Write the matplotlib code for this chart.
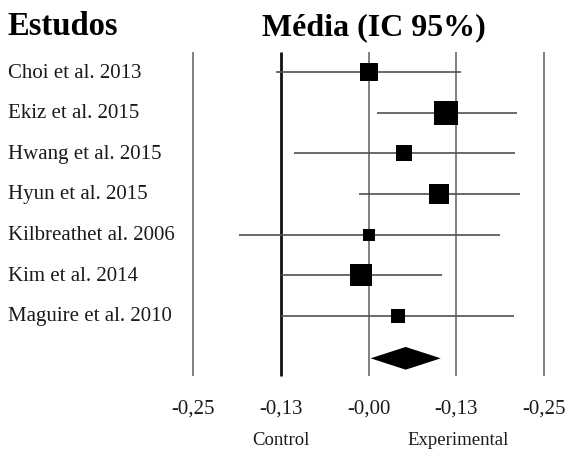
import numpy as np
import matplotlib.pyplot as plt

# study rows
studies = ["Choi et al. 2013", "Ekiz et al. 2015", "Hwang et al. 2015", "Hyun et al. 2015",
           "Kilbreathet al. 2006", "Kim et al. 2014", "Maguire et al. 2010"]
means = [0.000, 0.111, 0.051, 0.101, 0.000, -0.010, 0.042]
lower = [-0.132, 0.012, -0.106, -0.013, -0.185, -0.125, -0.125]
upper = [0.132, 0.211, 0.209, 0.216, 0.187, 0.104, 0.207]
weights = [18.3, 23.3, 15.7, 20.7, 12.7, 21.3, 14.3]   # relative box size

pooled = (0.003, 0.053, 0.103)   # lower, estimate, upper

ticks = [-0.25, -0.125, 0.0, 0.125, 0.25]
tick_labels = ["-0,25", "-0,13", "-0,00", "-0,13", "-0,25"]

serif = ["Liberation Serif", "DejaVu Serif"]

fig = plt.figure(figsize=(5.66, 4.52), dpi=100)
ax = fig.add_axes([0, 0, 1, 1])
ax.axis("off")

# pixel mapping: x=0 at px 368.5, 702 px per unit; rows every 40.57 px from px 73.3
px_x, x0 = 702.0, 368.5
px_row, y0 = 40.57, 73.3
ax.set_xlim((0 - x0) / px_x, (566 - x0) / px_x)
ax.set_ylim((452 - y0) / px_row, (0 - y0) / px_row)

n = len(studies)
rows = np.arange(n)
y_top, y_bot = -0.49, n + 0.48

# vertical reference lines
for t in ticks:
    if t == -0.125:
        ax.vlines(t, y_top, y_bot, color="#111111", lw=2.0, zorder=1)
    else:
        ax.vlines(t, y_top, y_bot, color="#808080", lw=1.4, zorder=1)

# CI lines and boxes
ax.hlines(rows, lower, upper, color="#505050", lw=1.2, zorder=2)
for y, m, w in zip(rows, means, weights):
    ax.plot(m, y, marker="s", ms=w * 0.72, color="black", mew=0, zorder=3)

# pooled diamond
yd = n + 0.05
dx = [pooled[0], pooled[1], pooled[2], pooled[1]]
dy = [yd, yd - 0.28, yd, yd + 0.28]
ax.fill(dx, dy, color="black", lw=0, zorder=3)

# study labels
for y, s in zip(rows, studies):
    ax.text(0.0147, y + 0.108, s, transform=ax.get_yaxis_transform(), ha="left", va="baseline",
            fontsize=15, family=serif, color="#1a1a1a")

# tick labels
for t, lab in zip(ticks, tick_labels):
    ax.text(t, n + 1.38, lab, ha="center", va="baseline", fontsize=15, family=serif, color="#1a1a1a")

ax.text(-0.1246, n + 2.16, "Control", ha="center", va="baseline", fontsize=13.5, family=serif,
        color="#1a1a1a")
ax.text(0.128, n + 2.16, "Experimental", ha="center", va="baseline", fontsize=13.5, family=serif,
        color="#1a1a1a")

# headers
ax.text(0.013, -0.944, "Estudos", transform=ax.get_yaxis_transform(), ha="left", va="baseline",
        fontsize=23.5, fontweight="bold", family=serif)
ax.text(0.0075, -0.944, "Média (IC 95%)", ha="center", va="baseline",
        fontsize=23, fontweight="bold", family=serif)

fig.savefig("out.png", dpi=100)
